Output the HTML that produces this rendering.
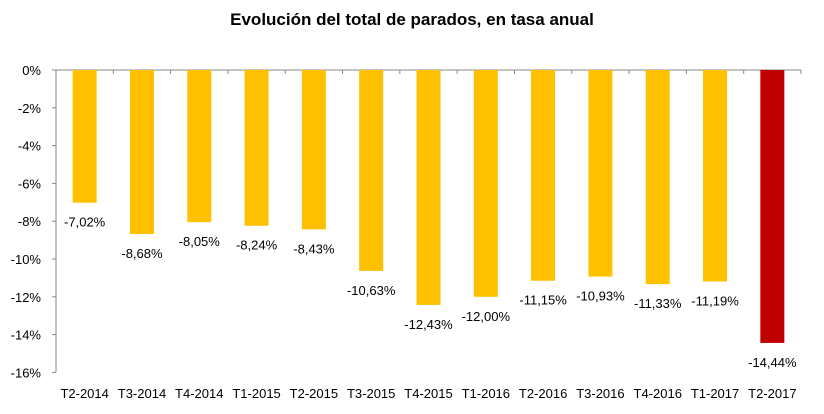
<!DOCTYPE html>
<html><head><meta charset="utf-8"><style>
body{margin:0;background:#fff;}
svg{display:block;font-family:"Liberation Sans",Arial,sans-serif;}
</style></head><body>
<svg id="chart" width="824" height="414">
<text x="412" y="25" text-anchor="middle" font-size="17" font-weight="bold" fill="#000">Evolución del total de parados, en tasa anual</text>
<g id="g"></g>
</svg>
<script>
const categories=["T2-2014","T3-2014","T4-2014","T1-2015","T2-2015","T3-2015","T4-2015","T1-2016","T2-2016","T3-2016","T4-2016","T1-2017","T2-2017"];
const values=[-7.02,-8.68,-8.05,-8.24,-8.43,-10.63,-12.43,-12.00,-11.15,-10.93,-11.33,-11.19,-14.44];
const valueLabels=["-7,02%","-8,68%","-8,05%","-8,24%","-8,43%","-10,63%","-12,43%","-12,00%","-11,15%","-10,93%","-11,33%","-11,19%","-14,44%"];
const yTicks=[0,-2,-4,-6,-8,-10,-12,-14,-16];
const y0=70,pxPer=18.9,xL=56,xR=801;
const band=(xR-xL)/categories.length;
const y=v=>y0-v*pxPer;
const x=i=>xL+band*i;
const g=document.getElementById('g');
const NS='http://www.w3.org/2000/svg';
function mk(t,a){const e=document.createElementNS(NS,t);for(const k in a)e.setAttribute(k,a[k]);g.appendChild(e);return e;}
yTicks.forEach(t=>{
  const e=mk('text',{x:41,y:y(t)+5,'text-anchor':'end','font-size':13,fill:'#000'});
  e.textContent=t+'%';
  
  
  const l=mk('line',{x1:xL-4,x2:xL,y1:y(t),y2:y(t),stroke:'#888'});
  
  
});
const ax=mk('line',{x1:xL,x2:xL,y1:y(0),y2:y(-16),stroke:'#888'});


const xa=mk('line',{x1:xL,x2:xR,y1:y(0),y2:y(0),stroke:'#888'});


categories.forEach((c,i)=>{
  const tk=mk('line',{x1:x(i+1),x2:x(i+1),y1:y(0),y2:y(0)+4,stroke:'#888'});
  
  
  const cx=x(i)+band/2, v=values[i];
  const r=mk('rect',{x:cx-12,y:y(0),width:24,height:y(v)-y(0),fill:i===categories.length-1?'#C00000':'#FFC000'});
  
  
  const vl=mk('text',{x:cx,y:y(v)+24,'text-anchor':'middle','font-size':13,fill:'#000'});
  vl.textContent=valueLabels[i];
  
  
  const cl=mk('text',{x:cx,y:398,'text-anchor':'middle','font-size':13,fill:'#000'});
  cl.textContent=c;
  
  
});
</script>
</body></html>
